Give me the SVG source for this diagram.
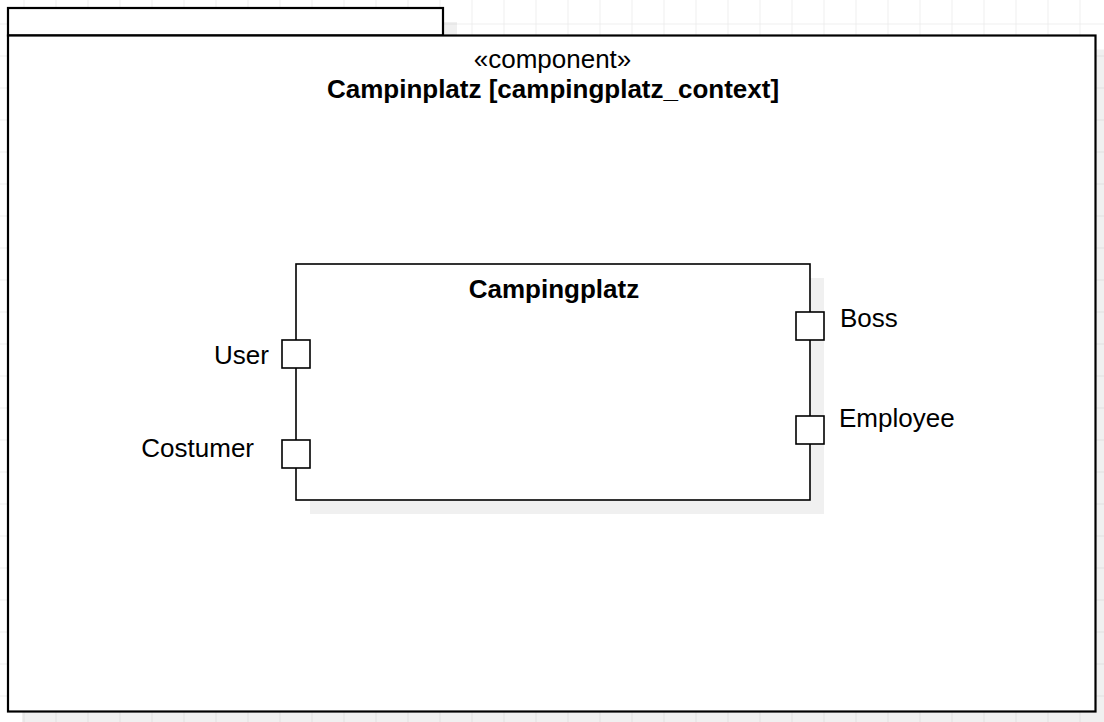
<svg xmlns="http://www.w3.org/2000/svg" width="1104" height="722" viewBox="0 0 1104 722">
  <style>
    text { font-family: "Liberation Sans", Arial, sans-serif; font-size: 26px; fill: #000000; }
    .bold { font-weight: bold; }
    .frame { fill: #ffffff; stroke: #000000; stroke-width: 2.2; }
    .box { fill: #ffffff; stroke: #000000; stroke-width: 1.6; }
    .port { fill: #ffffff; stroke: #000000; stroke-width: 1.6; }
    .shadow { fill: #000000; fill-opacity: 0.06; stroke: none; }
  </style>
  <defs>
    <pattern id="grid" x="23.5" y="23.5" width="32" height="32" patternUnits="userSpaceOnUse">
      <rect x="0" y="0" width="1" height="32" fill="#eeeeee"/>
      <rect x="0" y="0" width="32" height="1" fill="#eeeeee"/>
    </pattern>
  </defs>

  <rect x="0" y="0" width="1104" height="722" fill="#ffffff"/>
  <rect x="0" y="0" width="1104" height="722" fill="url(#grid)"/>

  <g id="frame">
    <rect class="shadow" x="22" y="22" width="435" height="27.5"/>
    <rect class="shadow" x="22" y="49.5" width="1090" height="680"/>
    <rect class="frame" x="8" y="8" width="435" height="27.5"/>
    <rect class="frame" x="8" y="35.5" width="1087.5" height="676"/>
    <text x="552.5" y="68" text-anchor="middle">«component»</text>
    <text class="bold" x="553" y="97.5" text-anchor="middle">Campinplatz [campingplatz_context]</text>
  </g>

  <g id="campingplatz">
    <rect class="shadow" x="310" y="278" width="514" height="236"/>
    <rect class="box" x="296" y="264" width="514" height="236"/>
    <text class="bold" x="554" y="297.5" text-anchor="middle">Campingplatz</text>
  </g>

  <g id="port-user">
    <rect class="port" x="282" y="340" width="28" height="28"/>
    <text x="269" y="364" text-anchor="end">User</text>
  </g>

  <g id="port-costumer">
    <rect class="port" x="282" y="440" width="28" height="28"/>
    <text x="254" y="457" text-anchor="end">Costumer</text>
  </g>

  <g id="port-boss">
    <rect class="port" x="796" y="312" width="28" height="28"/>
    <text x="840" y="327">Boss</text>
  </g>

  <g id="port-employee">
    <rect class="port" x="796" y="416" width="28" height="28"/>
    <text x="839" y="427">Employee</text>
  </g>

  <g id="connectors"></g>
</svg>
